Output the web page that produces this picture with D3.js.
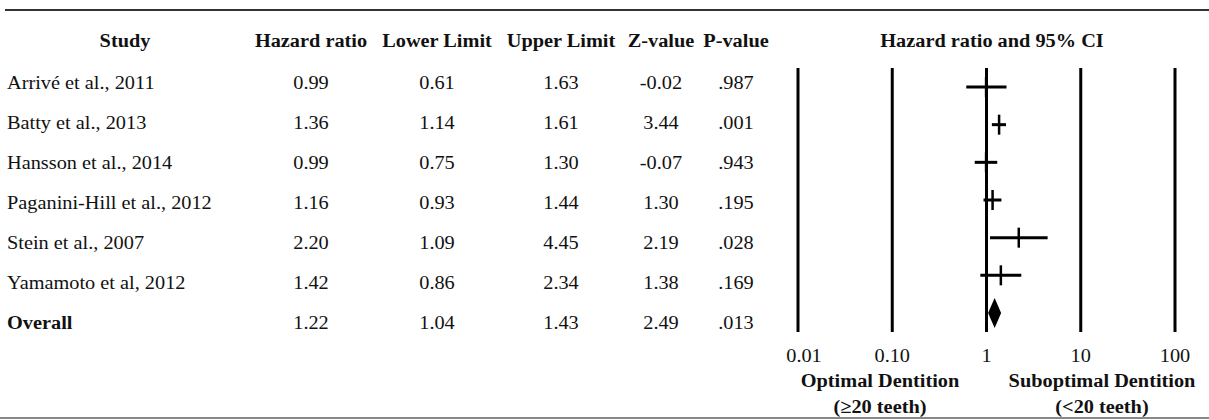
<!DOCTYPE html>
<html><head><meta charset="utf-8">
<script src="https://cdn.jsdelivr.net/npm/d3@7"></script>
<style>
html,body{margin:0;padding:0;background:#fff;}
svg{display:block;}
text{font-family:"Liberation Serif","Times New Roman",serif;fill:#111;}
</style></head>
<body>
<svg id="chart" width="1209" height="420"></svg>
<script>
const studies = ["Arrivé et al., 2011","Batty et al., 2013","Hansson et al., 2014","Paganini-Hill et al., 2012","Stein et al., 2007","Yamamoto et al, 2012","Overall"];
const hazardRatio = [0.99,1.36,0.99,1.16,2.20,1.42,1.22];
const lowerLimit = [0.61,1.14,0.75,0.93,1.09,0.86,1.04];
const upperLimit = [1.63,1.61,1.30,1.44,4.45,2.34,1.43];
const zValue = ["-0.02","3.44","-0.07","1.30","2.19","1.38","2.49"];
const pValue = [".987",".001",".943",".195",".028",".169",".013"];
const columnHeaders = ["Study","Hazard ratio","Lower Limit","Upper Limit","Z-value","P-value"];
const axisTicks = [0.01,0.1,1,10,100];
const axisTickLabels = ["0.01","0.10","1","10","100"];
const plotTitle = "Hazard ratio and 95% CI";
const leftLabel = ["Optimal Dentition","(≥20 teeth)"];
const rightLabel = ["Suboptimal Dentition","(<20 teeth)"];

const svg = d3.select("#chart");
const FS = 19;
const SX = 1.07; // horizontal stretch of the original typesetting

function txt(sel){
  return sel.attr("font-size",FS);
}
function place(sel, xf, yf){
  sel.attr("transform",(d,i)=>`translate(${xf(d,i)},${yf(d,i)}) scale(${SX},1)`);
  return sel;
}

// borders
svg.append("line").attr("x1",5).attr("x2",1209).attr("y1",10).attr("y2",10)
  .attr("stroke","#333").attr("stroke-width",2);
svg.append("line").attr("x1",0).attr("x2",1209).attr("y1",418).attr("y2",418)
  .attr("stroke","#888").attr("stroke-width",2);

// table
const idx = d3.range(studies.length);
const rowY = d3.scalePoint().domain(idx).range([89, 329]);
const colX = [125, 311, 437, 561, 661, 736];
const headerY = 47;

place(txt(svg.selectAll("text.hdr").data(columnHeaders).enter().append("text")
  .attr("class","hdr").attr("text-anchor","middle").attr("font-weight","bold")), (d,i)=>colX[i], ()=>headerY)
  .text(d=>d);

const cols = [
  studies,
  hazardRatio.map(v=>v.toFixed(2)),
  lowerLimit.map(v=>v.toFixed(2)),
  upperLimit.map(v=>v.toFixed(2)),
  zValue,
  pValue
];
cols.forEach((arr,ci)=>{
  place(txt(svg.selectAll("text.c"+ci).data(arr).enter().append("text")
    .attr("class","c"+ci)
    .attr("text-anchor", ci===0 ? "start" : "middle")
    .attr("font-weight",(d,i)=> (ci===0 && i===studies.length-1) ? "bold" : "normal")),
    ()=> ci===0 ? 7 : colX[ci], (d,i)=>rowY(i))
    .text(d=>d);
});

// forest plot
const x = d3.scaleLog().domain([0.01,100]).range([798,1175]);
const py = d3.scalePoint().domain(idx).range([87, 313]);

place(txt(svg.append("text").datum(plotTitle).attr("text-anchor","middle").attr("font-weight","bold")),
  ()=>992, ()=>headerY).text(plotTitle);

svg.selectAll("line.ref").data(axisTicks).enter().append("line").attr("class","ref")
  .attr("x1",d=>x(d)).attr("x2",d=>x(d)).attr("y1",68).attr("y2",332)
  .attr("stroke","#000").attr("stroke-width",3);

place(txt(svg.selectAll("text.tick").data(axisTicks).enter().append("text").attr("class","tick")
  .attr("text-anchor","middle")), (d,i)=>x(d) + (i===0?6:0), ()=>362)
  .text((d,i)=>axisTickLabels[i]);

const studyIdx = idx.slice(0, studies.length-1);
svg.selectAll("line.ci").data(studyIdx).enter().append("line").attr("class","ci")
  .attr("x1",i=>x(lowerLimit[i])).attr("x2",i=>x(upperLimit[i]))
  .attr("y1",i=>py(i)).attr("y2",i=>py(i))
  .attr("stroke","#000").attr("stroke-width",3);
svg.selectAll("line.pt").data(studyIdx).enter().append("line").attr("class","pt")
  .attr("x1",i=>x(hazardRatio[i])).attr("x2",i=>x(hazardRatio[i]))
  .attr("y1",i=>py(i)-10).attr("y2",i=>py(i)+10)
  .attr("stroke","#000").attr("stroke-width",2.5);

const o = studies.length-1;
const dy = py(o), h = 15;
svg.append("path")
  .attr("d",`M${x(lowerLimit[o])},${dy} L${x(hazardRatio[o])},${dy-h} L${x(upperLimit[o])},${dy} L${x(hazardRatio[o])},${dy+h} Z`)
  .attr("fill","#000");

[[leftLabel,880],[rightLabel,1102]].forEach(([lab,cx])=>{
  place(txt(svg.append("text").datum(lab[0]).attr("text-anchor","middle").attr("font-weight","bold")),
    ()=>cx, ()=>387).text(lab[0]);
  place(txt(svg.append("text").datum(lab[1]).attr("text-anchor","middle").attr("font-weight","bold")),
    ()=>cx, ()=>413).text(lab[1]);
});
</script>
</body></html>
